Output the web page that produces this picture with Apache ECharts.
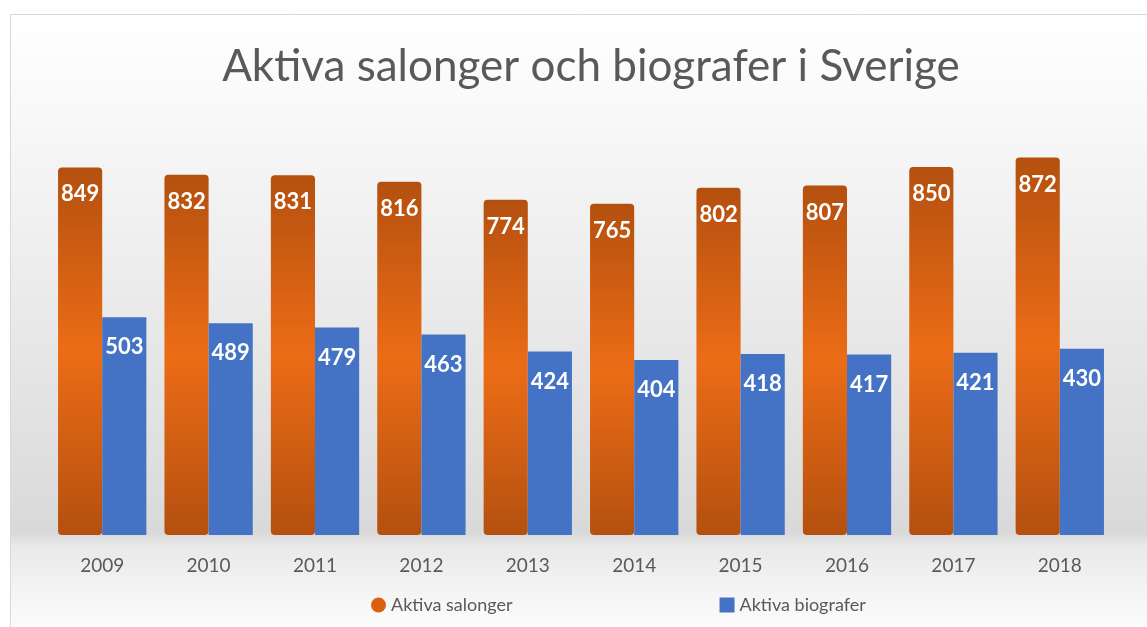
<!DOCTYPE html>
<html>
<head>
<meta charset="utf-8">
<script src="https://cdn.jsdelivr.net/npm/echarts@6/dist/echarts.min.js"></script>
<style>
  html, body { margin: 0; padding: 0; background: #fff; }
  #chart { width: 1147px; height: 627px; }
</style>
</head>
<body>
<div id="chart"></div>
<script>
  const years = ['2009', '2010', '2011', '2012', '2013', '2014', '2015', '2016', '2017', '2018']
  const salonger = [849, 832, 831, 816, 774, 765, 802, 807, 850, 872]
  const biografer = [503, 489, 479, 463, 424, 404, 418, 417, 421, 430]

  const chart = echarts.init(document.getElementById('chart'))

  // orange "cylinder" look: dark at the ends, bright in the middle
  const orangeFill = new echarts.graphic.LinearGradient(0, 0, 0, 1, [
    { offset: 0, color: '#b4500f' },
    { offset: 0.5, color: '#ec6c16' },
    { offset: 1, color: '#b4500f' }
  ])

  chart.setOption({
    animation: false,
    textStyle: { fontFamily: 'Lato' },
    graphic: [
      {
        type: 'rect',
        z: -10,
        shape: { x: 10.5, y: 14.5, width: 1150, height: 640 },
        style: {
          fill: new echarts.graphic.LinearGradient(0, 0, 0, 1, [
            { offset: 0, color: '#ffffff' },
            { offset: 0.12, color: '#fafafa' },
            { offset: 0.81, color: '#d9d9d9' },
            { offset: 0.83, color: '#e9e9e9' },
            { offset: 0.92, color: '#f7f7f7' },
            { offset: 1, color: '#ffffff' }
          ]),
          stroke: '#d9d9d9',
          lineWidth: 1
        }
      }
    ],
    title: {
      text: 'Aktiva salonger och biografer i Sverige',
      left: 586,
      textAlign: 'center',
      top: 40,
      textStyle: { fontFamily: 'Lato', fontSize: 44, fontWeight: 'normal', color: '#595959' }
    },
    legend: {
      bottom: 8,
      left: 366,
      itemGap: 207,
      itemWidth: 15,
      itemHeight: 15,
      textStyle: { fontFamily: 'Lato', fontSize: 18, color: '#595959' },
      data: [
        { name: 'Aktiva salonger', icon: 'circle', itemStyle: { color: '#d95f12' } },
        { name: 'Aktiva biografer', icon: 'rect', itemStyle: { color: '#4472c4' } }
      ]
    },
    grid: { left: 49, right: 34, top: 102, bottom: 92 },
    xAxis: {
      type: 'category',
      data: years,
      axisLine: { show: false },
      axisTick: { show: false },
      axisLabel: { fontFamily: 'Lato', fontSize: 19, color: '#595959', margin: 21 }
    },
    yAxis: {
      type: 'value',
      min: 0,
      max: 1000,
      show: false,
      splitLine: { show: false }
    },
    series: [
      {
        name: 'Aktiva salonger',
        type: 'bar',
        data: salonger,
        barGap: '0%',
        barCategoryGap: '17%',
        itemStyle: { color: orangeFill, borderRadius: 4 },
        label: {
          show: true,
          position: 'insideTop',
          distance: 16,
          fontFamily: 'Lato',
          fontSize: 22,
          fontWeight: 'bold',
          color: '#ffffff'
        }
      },
      {
        name: 'Aktiva biografer',
        type: 'bar',
        data: biografer,
        itemStyle: { color: '#4472c4' },
        label: {
          show: true,
          position: 'insideTop',
          distance: 19,
          fontFamily: 'Lato',
          fontSize: 22,
          fontWeight: 'bold',
          color: '#ffffff'
        }
      }
    ]
  })
</script>
</body>
</html>
